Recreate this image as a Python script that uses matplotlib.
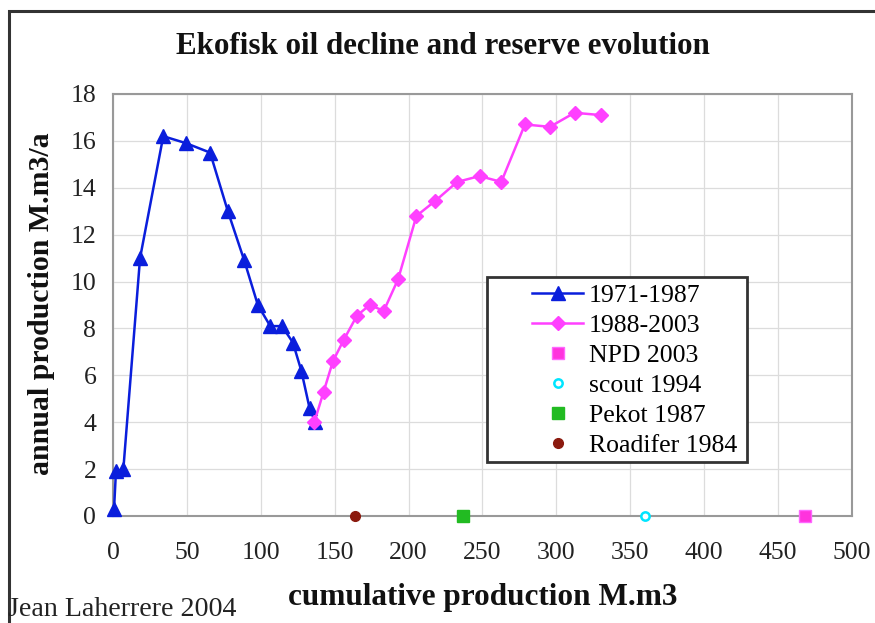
import matplotlib
matplotlib.use("Agg")
import matplotlib.pyplot as plt
from matplotlib.patches import Rectangle

# data
early_x = [0.7, 2.0, 7.0, 18.3, 34.0, 49.5, 65.7, 77.7, 88.8, 98.0, 106.4, 114.3, 121.7, 127.4, 133.0, 136.9]
early_y = [0.3, 1.9, 2.0, 11.0, 16.2, 15.9, 15.5, 13.0, 10.9, 9.0, 8.1, 8.1, 7.4, 6.2, 4.6, 4.0]
late_x = [136.2, 142.5, 148.8, 156.0, 165.1, 173.7, 183.2, 192.9, 205.3, 218.2, 232.9, 248.0, 262.7, 278.7, 295.6, 312.3, 330.0]
late_y = [4.0, 5.3, 6.6, 7.5, 8.55, 9.0, 8.75, 10.1, 12.8, 13.45, 14.25, 14.5, 14.25, 16.7, 16.6, 17.2, 17.1]
npd_x, npd_y = [468], [0]
scout_x, scout_y = [360], [0]
pekot_x, pekot_y = [237], [0]
roadifer_x, roadifer_y = [164], [0]
xticks = list(range(0, 501, 50))
yticks = list(range(0, 19, 2))

plt.rcParams['font.family'] = ['Liberation Serif', 'DejaVu Serif']

fig = plt.figure(figsize=(8.75, 6.23), dpi=100)
fig.patch.set_facecolor('white')

# outer frame
fig.add_artist(Rectangle((9/875, -0.1), 1.2, 1 - 11/623 + 0.1, transform=fig.transFigure,
                         fill=False, edgecolor='#333333', linewidth=2.2))

ax = fig.add_axes([113/875, 1 - 516/623, 739/875, 422/623])
ax.set_xlim(0, 500)
ax.set_ylim(0, 18)
ax.set_xticks(xticks)
ax.set_yticks(yticks)
ax.grid(True, color='#dcdcdc', linewidth=0.9)
ax.set_axisbelow(True)
for s in ax.spines.values():
    s.set_color('#999999')
    s.set_linewidth(1.5)
ax.tick_params(axis='both', labelsize=18.5, length=0, colors='#222222')
ax.tick_params(axis='y', pad=12)
ax.tick_params(axis='x', pad=19)

ax.plot(early_x, early_y, color='#0a1edc', marker='^', markersize=10, linewidth=1.8,
        label='1971-1987', clip_on=False, zorder=4)
ax.plot(late_x, late_y, color='#ff40ff', marker='D', markersize=7.5, linewidth=1.8,
        label='1988-2003', clip_on=False, zorder=5)
ax.plot(npd_x, npd_y, linestyle='none', marker='s', markersize=8, markerfacecolor='#ff33dd',
        markeredgecolor='#ff66ff', label='NPD 2003', clip_on=False, zorder=6)
ax.plot(scout_x, scout_y, linestyle='none', marker='o', markersize=6, markerfacecolor='white',
        markeredgecolor='#00e5ff', markeredgewidth=1.8, label='scout 1994', clip_on=False, zorder=6)
ax.plot(pekot_x, pekot_y, linestyle='none', marker='s', markersize=8, markerfacecolor='#22bb22',
        markeredgecolor='#22bb22', label='Pekot 1987', clip_on=False, zorder=6)
ax.plot(roadifer_x, roadifer_y, linestyle='none', marker='o', markersize=7, markerfacecolor='#8b1a0e',
        markeredgecolor='#8b1a0e', label='Roadifer 1984', clip_on=False, zorder=6)

leg = ax.legend(loc='upper left', bbox_to_anchor=((532 - 113) / 739, (516 - 284) / 422),
                fontsize=18.5, frameon=False, handlelength=2.0, handletextpad=0.2,
                labelspacing=0.27, borderpad=0, borderaxespad=0)
leg.set_zorder(8)
ax.add_patch(Rectangle(((487 - 113) / 739, (516 - 462) / 422), (747 - 487) / 739, (462 - 277) / 422,
                       transform=ax.transAxes, facecolor='white', edgecolor='#333333',
                       linewidth=2.0, zorder=7))

fig.text(443/875, 1 - 47/623, 'Ekofisk oil decline and reserve evolution', ha='center', va='center',
         fontsize=22.3, fontweight='bold', color='#111111')
fig.text(483/875, 1 - 597/623, 'cumulative production M.m3', ha='center', va='center',
         fontsize=22.5, fontweight='bold', color='#111111')
fig.text(42/875, 1 - 304/623, 'annual production M.m3/a', ha='center', va='center',
         rotation=90, fontsize=21.5, fontweight='bold', color='#111111')
fig.text(8/875, 1 - 610/623, 'Jean Laherrere 2004', ha='left', va='center',
         fontsize=20.2, color='#222222')

fig.savefig('out.png', dpi=100)
